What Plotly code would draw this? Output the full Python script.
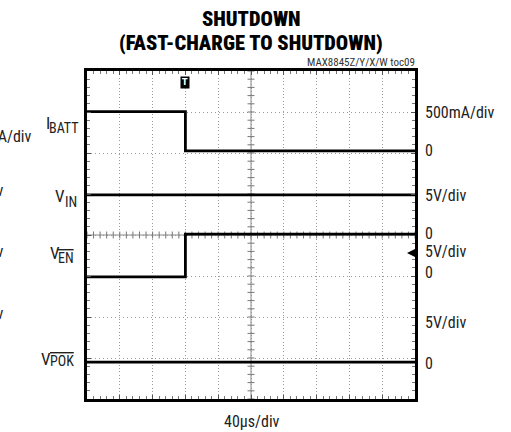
import numpy as np
import plotly.graph_objects as go

# ---- data (time in microseconds, signals in physical units) ----
t_step = [0, 120, 120, 400]           # µs
ibatt_mA = [480, 480, 0, 0]           # mA
vin_t = [0, 400]
vin_V = [4.9, 4.9]
ven_V = [0, 0, 5.2, 5.2]
vpok_t = [0, 400]
vpok_V = [0, 0]

# channel offsets (divisions) and scales (units/div)
ibatt_off, ibatt_scale = 6.05, 500
vin_off, vin_scale = 4.0, 5
ven_off, ven_scale = 2.98, 5
vpok_off, vpok_scale = 0.9, 5

right_labels = ["500mA/div", "0", "5V/div", "0", "5V/div", "0", "5V/div", "0"]
right_label_px = [112, 150, 195, 233, 252, 272, 322, 363]

L, R, T, B = 87, 96, 71, 33
W, H = 511, 432
PW, PH = W - L - R, H - T - B

def px_x(px):
    return (px - L) / PW

def px_y(py):
    return (H - B - py) / PH

FONT = "Roboto, sans-serif"
TXT = "#222222"

def cond(s, weight=None):
    st = "font-stretch:condensed"
    if weight:
        st += ";font-weight:%d" % weight
    return '<span style="%s">%s</span>' % (st, s)

fig = go.Figure()

# graticule center-line ticks
fig.add_trace(go.Scatter(x=[200] * 41, y=np.arange(0, 8.001, 0.2), mode="markers",
                         marker=dict(symbol="line-ew", size=5, line=dict(color="#777", width=1)),
                         hoverinfo="skip", showlegend=False))
fig.add_trace(go.Scatter(x=np.arange(0, 400.01, 8), y=[4] * 51, mode="markers",
                         marker=dict(symbol="line-ns", size=5, line=dict(color="#777", width=1)),
                         hoverinfo="skip", showlegend=False))

def trace(x, vals, off, scale):
    fig.add_trace(go.Scatter(x=x, y=[off + v / scale for v in vals], mode="lines",
                             line=dict(color="black", width=2.8), hoverinfo="skip",
                             showlegend=False))

trace(t_step, ibatt_mA, ibatt_off, ibatt_scale)
trace(vin_t, vin_V, vin_off, vin_scale)
trace(t_step, ven_V, ven_off, ven_scale)
trace(vpok_t, vpok_V, vpok_off, vpok_scale)

axis_common = dict(showticklabels=False, showgrid=True, gridcolor="#9a9a9a", gridwidth=1,
                   zeroline=False, showline=True, linecolor="black", linewidth=3,
                   mirror="allticks", ticks="inside", ticklen=4, tickcolor="#555",
                   fixedrange=True)
fig.update_xaxes(range=[0, 400], dtick=40, tick0=0, griddash="1px,2.3px",
                 minor=dict(dtick=8, ticks="inside", ticklen=3, tickcolor="#777", showgrid=False),
                 **axis_common)
fig.update_yaxes(range=[0, 8], dtick=1, tick0=0, griddash="1px,3px",
                 minor=dict(dtick=0.2, ticks="inside", ticklen=3, tickcolor="#777", showgrid=False),
                 **axis_common)

shapes = [
    dict(type="line", xref="x", yref="y", x0=200, x1=200, y0=0, y1=8,
         line=dict(color="#888", width=1), layer="below"),
    dict(type="line", xref="x", yref="y", x0=0, x1=400, y0=4, y1=4,
         line=dict(color="#888", width=1), layer="below"),
]

ann = []

def text(s, px, py, size, xanchor="left", color=TXT, weight=None, family=FONT):
    ann.append(dict(text=cond(s, weight), xref="paper", yref="paper", x=px_x(px), y=px_y(py),
                    xanchor=xanchor, yanchor="middle", showarrow=False, borderpad=0,
                    font=dict(family=family, size=size, color=color)))

# title
text("SHUTDOWN", 251, 19, 20.5, "center", "black", 900)
text("(FAST-CHARGE TO SHUTDOWN)", 251, 43, 20.5, "center", "black", 900)
text("MAX8845Z/Y/X/W toc09", 416, 63, 11, "right", "#333")

# right labels
for txt, py in zip(right_labels, right_label_px):
    text(txt, 424, py, 16)

# left channel names: main letter + subscript
OL = '<span style="text-decoration:overline">%s</span>'
channel_names = [
    ("I", "BATT", 45, 123, 48, 128),
    ("V", "IN", 53.5, 196, 63.5, 201.5),
    ("V", OL % "EN", 48.5, 252.5, 57, 257.5),
    ("V", OL % "POK", 39.5, 358.5, 48.5, 361),
]
for main, sub, mx, my, sx, sy in channel_names:
    text(main, mx, my, 17)
    text(sub, sx, sy, 14)

# clipped labels from neighbouring chart
for txt, py in [("500mA/div", 136), ("5V/div", 190), ("5V/div", 251), ("5V/div", 313)]:
    text(txt, -39, py, 16)

# x scale label
text("40µs/div", 252, 421, 16, "center")

# trigger marker
ann.append(dict(text="<b>T</b>", xref="x", yref="paper", x=120, y=px_y(82),
                xanchor="center", yanchor="middle", showarrow=False, bgcolor="black",
                borderpad=1, font=dict(family="DejaVu Sans", size=8, color="white")))
# ground-level arrow (pointing left)
ann.append(dict(text="", xref="paper", yref="paper", x=px_x(407), y=px_y(253),
                showarrow=True, ax=7, ay=0, arrowhead=2, arrowsize=1.1, arrowwidth=2,
                arrowcolor="black", standoff=0, startstandoff=0))

fig.update_layout(width=W, height=H, margin=dict(l=L, r=R, t=T, b=B),
                  paper_bgcolor="white", plot_bgcolor="white",
                  shapes=shapes, annotations=ann, showlegend=False)

fig.write_html("out.html", config={"displayModeBar": False},
               post_script="document.body.style.margin='0';")
